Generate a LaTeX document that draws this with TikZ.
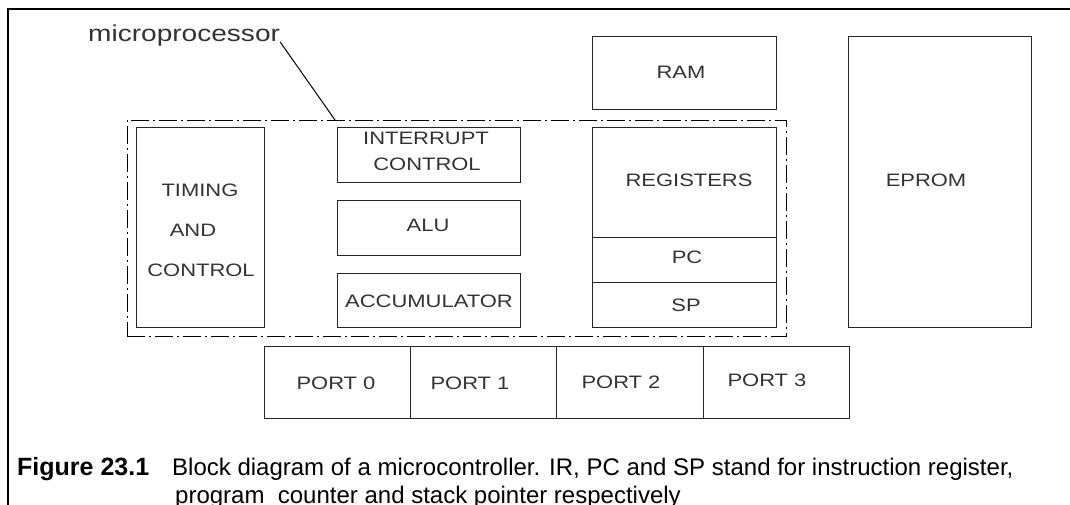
\documentclass[tikz,border=0pt]{standalone}
\usepackage{fontspec}
\setmainfont{Liberation Sans}
\newfontfamily\diafont{Liberation Sans}[FakeStretch=1.22]
\begin{document}
\begin{tikzpicture}[x=1pt,y=-1pt,
  box/.style={draw=black!85, line width=0.8pt, inner sep=0pt, anchor=north west},
  lbl/.style={font=\diafont\fontsize{18}{20}\selectfont, text=black!80, inner sep=0pt},
  dashdot/.style={draw=black, line width=0.8pt, dash pattern=on 18pt off 4pt on 2pt off 4pt},
  frameline/.style={draw=black, line width=1.2pt},
  capfig/.style={font=\bfseries\fontsize{25}{28}\selectfont, inner sep=0pt, anchor=base west},
  captext/.style={font=\fontsize{24}{28}\selectfont, inner sep=0pt, anchor=base west},
]
\useasboundingbox (0,0) rectangle (1070,505);
\fill[white] (0,0) rectangle (1070,505);
% outer frame
\coordinate (fb) at (8,510);
\coordinate (fc) at (8,9);
\coordinate (fr) at (1075,9);
\draw[frameline] (fb) -- (fc) -- (fr);
% microprocessor frame
\node[box, dashdot, minimum width=659pt, minimum height=216pt] (upframe) at (127,120) {};
% boxes
\node[box, minimum width=128pt, minimum height=200pt] (timing) at (136,127) {};
\node[box, minimum width=183pt, minimum height=55pt] (intr) at (337,127) {};
\node[box, minimum width=183pt, minimum height=55pt] (alu) at (337,200) {};
\node[box, minimum width=183pt, minimum height=54pt] (acc) at (337,273) {};
\node[box, minimum width=184pt, minimum height=73pt] (ram) at (592,36) {};
\node[box, minimum width=184pt, minimum height=110pt] (regs) at (592,127) {};
\node[box, minimum width=184pt, minimum height=45pt] (pc) at (592,237) {};
\node[box, minimum width=184pt, minimum height=45pt] (sp) at (592,282) {};
\node[box, minimum width=183pt, minimum height=291pt] (eprom) at (848,36) {};
\node[box, minimum width=146pt, minimum height=72pt] (p0) at (264,346) {};
\node[box, minimum width=146pt, minimum height=72pt] (p1) at (410,346) {};
\node[box, minimum width=147pt, minimum height=72pt] (p2) at (556,346) {};
\node[box, minimum width=146pt, minimum height=72pt] (p3) at (703,346) {};
% labels
\node[lbl] (t1) at (200,190) {TIMING};
\node[lbl] (t2) at (193,230) {AND};
\node[lbl] (t3) at (201,270) {CONTROL};
\node[lbl] (i1) at (426,138) {INTERRUPT};
\node[lbl] (i2) at (427,164) {CONTROL};
\node[lbl] (alut) at (428,225) {ALU};
\node[lbl] (acct) at (429,301) {ACCUMULATOR};
\node[lbl] (ramt) at (681,72) {RAM};
\node[lbl] (regt) at (689,180) {REGISTERS};
\node[lbl] (pct) at (687,257) {PC};
\node[lbl] (spt) at (686,305) {SP};
\node[lbl] (epromt) at (926,180) {EPROM};
\node[lbl] (p0t) at (336,383) {PORT 0};
\node[lbl] (p1t) at (470,383) {PORT 1};
\node[lbl] (p2t) at (621,382) {PORT 2};
\node[lbl] (p3t) at (767,380) {PORT 3};
% microprocessor label and leader
\node[lbl, font=\diafont\fontsize{23}{25}\selectfont, anchor=base west] (mp) at (88,42) {microprocessor};
\coordinate (lead) at (335,120);
\draw[line width=1pt] (mp.base east) -- (lead);
% caption
\node[capfig] (fig) at (17,475) {Figure 23.1};
\node[captext] (cap1) at (172,475) {Block diagram of a microcontroller. IR, PC and SP stand for instruction register,};
\node[captext] (cap2) at (175,503) {program\ \ counter and stack pointer respectively};
\end{tikzpicture}
\end{document}
